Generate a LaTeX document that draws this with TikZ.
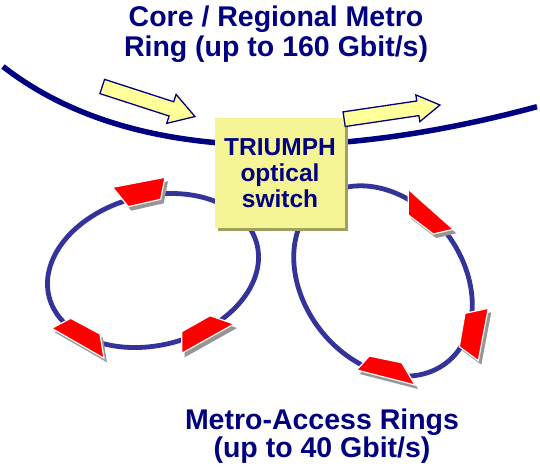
\documentclass[tikz,border=0pt]{standalone}
\usepackage{fontspec}
\setmainfont{Liberation Sans}
\usetikzlibrary{calc}
\definecolor{navy}{RGB}{0,0,128}
\definecolor{ringblue}{RGB}{51,51,153}
\definecolor{arrowyellow}{RGB}{255,255,153}
\definecolor{boxyellow}{RGB}{245,245,150}
\definecolor{boxshadow}{RGB}{160,160,96}
\definecolor{shadowgray}{RGB}{150,150,150}
\newcommand\redmark[4]{%
  \fill[mkshadow,shift={(3,4)}] #1--#2--#3--#4--cycle;
  \filldraw[mk] #1--#2--#3--#4--cycle;}
\tikzset{
  corearc/.style={draw=navy, line width=5.5pt},
  ring/.style={draw=ringblue, line width=4.8pt},
  yarrow/.style={fill=arrowyellow, draw=navy, line width=1.3pt, line join=miter},
  mk/.style={fill=red, draw=white, line width=1.2pt, line join=miter},
  mkshadow/.style={fill=shadowgray},
  boxst/.style={fill=boxyellow, minimum width=130pt, minimum height=110pt, inner sep=0pt,
    text=navy, align=center, font=\bfseries\fontsize{24.5}{25.7}\selectfont},
  headtxt/.style={text=navy, anchor=base, inner sep=0pt,
    font=\bfseries\fontsize{28.5}{30}\selectfont}
}
\begin{document}
\begin{tikzpicture}[x=1pt,y=-1pt]
\useasboundingbox (0,0) rectangle (540,474);
% titles
\node[headtxt] (t1) at (276,26.7) {Core / Regional Metro};
\node[headtxt] (t2) at (276,56.7) {Ring (up to 160 Gbit/s)};
\node[headtxt] (b1) at (322,429) {Metro-Access Rings};
\node[headtxt] (b2) at (322,457) {(up to 40 Gbit/s)};
% core ring
\draw[corearc] (3,66.5) .. controls (138,171.8) and (352,156.65) .. (537,106.7);
% metro access rings
\draw[ring] plot[domain=0:360, samples=121, smooth]
  ({153 + 107.2*cos(\x)*cos(-14.15) - 74.7*sin(\x)*sin(-14.15)},
   {270.5 + 107.2*cos(\x)*sin(-14.15) + 74.7*sin(\x)*cos(-14.15)}) -- cycle;
\draw[ring] plot[domain=0:360, samples=121, smooth]
  ({383 + 103.5*cos(\x)*cos(52.2) - 79.5*sin(\x)*sin(52.2)},
   {281 + 103.5*cos(\x)*sin(52.2) + 79.5*sin(\x)*cos(52.2)}) -- cycle;
% red markers
\redmark{(112.7,187.3)}{(165,177.3)}{(160.7,199.3)}{(128.3,206.7)}
\redmark{(51.7,328.3)}{(70.7,318.3)}{(100,334)}{(104,358.3)}
\redmark{(181.7,331.7)}{(210,315.7)}{(234,324)}{(181.7,353.3)}
\redmark{(408.3,189.3)}{(453.3,229.3)}{(433.3,234)}{(408.3,215)}
\redmark{(465,313.3)}{(488.3,308.3)}{(478.3,360.7)}{(459.3,346.7)}
\redmark{(356.7,370)}{(369.3,356)}{(401.7,362.7)}{(415,385)}
% left yellow arrow
\filldraw[yarrow] (104.56,79.37) -- (173.7,101.76) -- (176.07,94.43) -- (194.97,116.53)
  -- (166.71,123.35) -- (169.08,116.02) -- (99.94,93.63) -- cycle;
% switch box
\fill[boxshadow] (218,121) rectangle (348,231);
\node[boxst] (sw) at (280,173) {TRIUMPH\\optical\\switch};
% right yellow arrow
\filldraw[yarrow] (343.07,111.88) -- (416.75,100.97) -- (415.85,94.94) -- (439.98,105.0)
  -- (419.81,121.64) -- (418.91,115.61) -- (345.23,126.52) -- cycle;
\end{tikzpicture}
\end{document}
